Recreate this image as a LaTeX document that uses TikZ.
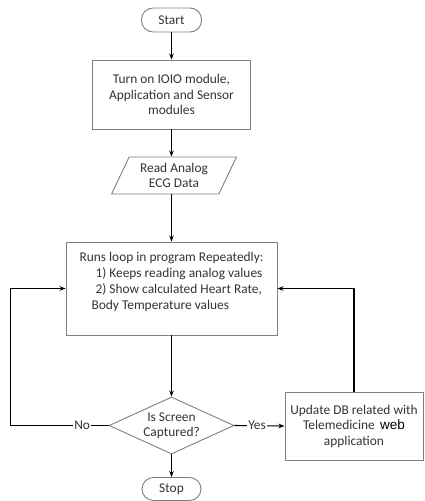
\documentclass[tikz,border=0pt]{standalone}
\usepackage{fontspec}
\setmainfont{Carlito}
\newfontfamily\arialfont{Liberation Sans}
\usetikzlibrary{shapes.geometric,arrows.meta}
\definecolor{boxgray}{HTML}{7F7F7F}
\definecolor{txtgray}{HTML}{333333}
\begin{document}
\begin{tikzpicture}[x=1pt,y=-1pt,
  base/.style={draw=boxgray, line width=0.9pt, inner sep=1pt, align=center,
    text=txtgray, font=\fontsize{13.4}{15.5}\selectfont},
  procbox/.style={base, rectangle},
  termbox/.style={base, rectangle, rounded corners=11.5pt},
  iobox/.style={base, trapezium, trapezium left angle=63, trapezium right angle=117,
    trapezium stretches=true},
  decbox/.style={base, diamond, aspect=2.2, inner sep=0pt},
  conn/.style={draw=black, line width=1.1pt, -{Stealth[length=6pt,width=4.5pt]}},
  lab/.style={fill=white, inner sep=1pt, text=txtgray, font=\fontsize{13.4}{15}\selectfont}
]
\useasboundingbox (0,0) rectangle (424,501);
\node[termbox, minimum width=60pt, minimum height=24pt] (start) at (171.5,20) {Start};
\node[procbox, minimum width=158pt, minimum height=69pt] (turn) at (171.5,94.5)
  {Turn on IOIO module,\\Application and Sensor\\modules};
\node[iobox, minimum width=126pt, minimum height=37pt] (read) at (174,175.5)
  {Read Analog\\ECG Data};
\node[procbox, minimum width=211pt, minimum height=93pt, align=left,
  font=\fontsize{13.4}{16}\selectfont] (loop) at (171.5,288.5)
  {Runs loop in program Repeatedly:\\
   \hspace*{16pt}1) Keeps reading analog values\\
   \hspace*{16pt}2) Show calculated Heart Rate,\\
   \hspace*{12pt}Body Temperature values\\ ~};
\node[decbox, minimum width=125pt, minimum height=57pt] (dec) at (171.5,425.5)
  {Is Screen\\Captured?};
\node[termbox, minimum width=59pt, minimum height=23pt] (stop) at (171.5,489)
  {Stop};
\node[procbox, minimum width=138pt, minimum height=68pt] (upd) at (354,426)
  {Update DB related with\\Telemedicine {\arialfont\fontsize{13.5}{15}\selectfont\color{black}\,web}\\application};
\coordinate (lc) at (10.7,425.5);
\coordinate (lt) at (10.7,288.5);
\draw[conn] (start) -- (turn);
\draw[conn] (turn) -- (read.north -| turn);
\draw[conn] (read.south -| turn) -- (loop.north -| turn);
\draw[conn] (loop) -- (dec);
\draw[conn] (dec) -- (stop);
\draw[conn] (dec.east) -- node[lab, pos=0.45] {Yes} (upd.west);
\draw[conn] (dec.west) -- node[lab, pos=0.27] {No} (lc) -- (lt) -- (loop.west);
\draw[conn] (upd.north) -- (upd.north |- loop.east) -- (loop.east);
\end{tikzpicture}
\end{document}
